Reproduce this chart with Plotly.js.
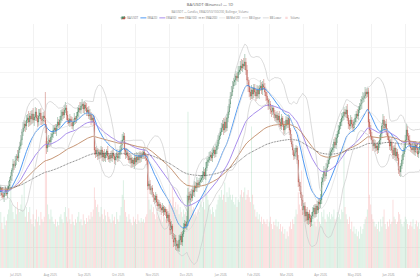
<!DOCTYPE html>
<html>
<head>
<meta charset="utf-8">
<script src="https://cdn.plot.ly/plotly-3.0.1.min.js"></script>
<style>
html,body{margin:0;padding:0;width:420px;height:280px;overflow:hidden;background:#fff;}
#wrap{width:2200px;height:1400px;transform:scale(0.2);transform-origin:0 0;}
</style>
</head>
<body>
<div id="wrap"><div id="chart" style="width:2200px;height:1400px;"></div></div>
<script>
// Daily data, first day 2025-06-01 (June is indicator warm-up, outside the visible window)
const startDay = '2025-06-01';
const closes = [
1.14,1.10,1.16,1.12,1.08,1.05,1.09,1.13,1.07,1.02,
1.06,1.10,1.04,1.00,1.03,1.07,1.11,1.08,1.04,1.01,
1.06,1.10,1.14,1.11,1.07,1.03,1.08,1.12,1.09,1.06,
1.10,1.08,1.12,1.05,1.03,1.07,1.10,1.06,1.11,1.14,
1.20,1.24,1.30,1.36,1.34,1.40,1.44,1.42,1.50,1.54,
1.60,1.68,1.72,1.76,1.74,1.80,1.82,1.78,1.84,1.81,
1.86,1.80,1.83,1.88,1.82,1.78,1.84,1.87,1.81,1.79,
1.84,1.82,1.72,1.52,1.56,1.60,1.58,1.63,1.66,1.70,
1.72,1.69,1.74,1.78,1.75,1.80,1.84,1.88,1.85,1.90,
1.92,1.85,1.80,1.77,1.81,1.79,1.74,1.78,1.82,1.80,
1.84,1.88,1.92,1.90,1.94,1.96,1.91,1.95,1.92,1.88,
1.90,1.84,1.86,1.80,1.82,1.78,1.50,1.46,1.50,1.44,
1.48,1.45,1.50,1.43,1.47,1.42,1.45,1.49,1.44,1.41,
1.45,1.42,1.47,1.44,1.40,1.43,1.46,1.42,1.45,1.50,
1.55,1.60,1.64,1.50,1.45,1.48,1.44,1.40,1.42,1.37,
1.40,1.36,1.42,1.38,1.43,1.40,1.45,1.42,1.46,1.44,
1.48,1.45,1.42,1.40,1.14,1.16,1.10,1.12,1.06,1.02,
1.00,1.04,0.98,0.94,0.96,0.92,0.90,0.93,0.88,0.91,
0.88,0.82,0.85,0.78,0.70,0.74,0.64,0.58,0.62,0.54,
0.56,0.52,0.60,0.64,0.58,0.66,0.72,0.76,0.74,0.78,
1.04,1.00,1.06,1.02,1.10,1.08,1.14,1.12,1.17,1.15,
1.18,1.20,1.22,1.25,1.28,1.24,1.32,1.38,1.40,1.43,
1.45,1.42,1.47,1.50,1.46,1.50,1.54,1.60,1.64,1.68,
1.72,1.76,1.70,1.78,1.72,1.82,1.88,1.96,2.04,2.08,
2.14,2.18,2.20,2.24,2.22,2.28,2.30,2.34,2.32,2.36,
2.34,2.38,2.30,2.20,2.14,2.08,2.04,2.10,2.06,2.12,
2.08,2.04,2.10,2.06,2.12,2.14,2.10,2.16,2.13,2.08,
2.04,2.00,1.94,1.96,1.90,1.88,1.92,1.86,1.82,1.85,
1.80,1.84,1.78,1.74,1.82,1.76,1.70,1.74,1.80,1.76,
1.82,1.70,1.62,1.56,1.50,1.44,1.48,1.52,1.40,1.18,
1.14,1.06,1.00,0.90,0.94,0.84,0.88,0.80,0.86,0.82,
0.78,0.84,0.88,0.92,0.86,0.94,0.90,0.98,0.96,1.00,
1.18,1.22,1.28,1.24,1.32,1.36,1.40,1.44,1.48,1.50,
1.52,1.58,1.55,1.62,1.66,1.70,1.74,1.78,1.82,1.84,
1.88,1.86,1.90,1.82,1.76,1.74,1.80,1.76,1.72,1.78,
1.82,1.86,1.84,1.90,1.94,1.96,2.00,2.02,2.04,2.08,
2.06,2.08,1.78,1.70,1.64,1.60,1.54,1.56,1.52,1.54,
1.50,1.56,1.60,1.66,1.74,1.80,1.72,1.76,1.68,1.64,
1.60,1.54,1.58,1.50,1.45,1.52,1.44,1.48,1.42,1.30,
1.28,1.34,1.40,1.46,1.52,1.60,1.70,1.64,1.60,1.56,
1.52,1.50,1.54,1.48,1.55,1.52,1.46,1.50,1.54,1.48,
1.52
];
// upper / lower wick lengths, in hundredths of a price unit
const wickUp = [
3,2,4,2,3,1,2,4,3,2, 2,3,1,4,2,3,2,1,3,2, 4,2,3,1,2,3,2,4,1,3,
2,4,3,1,3,2,4,2,3,5, 3,4,2,5,3,4,2,6,3,4, 5,3,6,4,3,5,4,7,3,5,
4,6,3,5,4,3,7,4,5,3, 4,5,26,4,3,5,2,4,3,5, 3,4,2,5,3,4,6,3,4,5,
6,3,4,2,5,3,4,3,5,2, 4,5,3,6,4,5,2,4,3,5, 3,4,5,2,4,3,6,3,4,2,
3,2,4,3,2,4,3,2,5,3, 2,4,3,5,2,3,4,2,3,4, 5,6,4,3,2,4,3,2,4,3,
3,2,4,3,5,2,3,4,2,3, 4,3,2,4,6,3,4,2,3,2, 3,4,2,3,4,2,3,4,2,3,
2,3,4,2,3,5,2,3,4,3, 4,3,5,2,4,3,5,4,3,6, 8,4,3,5,4,3,5,4,6,3,
4,5,3,4,5,3,6,4,3,5, 4,3,5,4,3,6,4,5,3,4, 5,4,6,3,5,4,6,5,4,6,
5,4,6,5,3,6,4,5,7,4, 6,8,4,5,3,6,4,5,3,4, 4,3,5,4,3,6,4,3,5,4,
3,4,2,5,3,4,3,2,4,3, 4,3,5,3,4,2,3,5,4,3, 4,3,2,4,3,2,4,3,2,5,
3,4,2,5,3,4,3,5,2,4, 3,4,5,3,4,2,5,3,4,6, 5,4,6,3,5,4,3,5,4,3,
4,3,5,4,3,5,4,3,5,4, 5,3,4,6,3,4,5,3,4,3, 4,3,5,4,3,5,4,6,3,5,
3,4,4,3,5,4,3,5,4,3, 4,3,5,4,3,6,4,3,5,4, 3,4,3,5,4,3,5,4,3,4,
4,3,5,4,3,5,6,4,3,5, 3,4,3,5,4,3,4,3,5,4, 3
];
const wickDown = [
2,3,2,4,2,3,1,2,3,4, 3,2,3,2,4,2,3,2,1,3, 2,3,2,4,3,2,3,2,4,2,
3,2,4,3,2,5,3,2,4,3, 4,3,5,3,4,2,5,3,4,3, 3,5,4,3,6,4,3,5,4,6,
5,3,6,4,3,5,4,3,6,4, 3,4,5,6,4,3,5,4,3,4, 4,3,5,4,3,4,3,5,4,3,
3,5,4,3,4,5,3,4,3,4, 3,4,5,3,4,3,4,5,3,4, 4,3,4,5,3,4,5,4,3,4,
3,4,3,4,5,3,4,3,4,3, 4,3,4,3,4,5,3,4,3,4, 3,4,3,5,4,3,4,3,4,5,
4,3,5,4,3,4,3,5,4,3, 3,4,3,5,4,3,4,5,3,4, 4,3,4,5,3,4,5,3,4,3,
4,5,3,4,5,4,3,5,4,4, 5,3,4,5,3,4,3,4,3,4, 4,3,5,4,3,4,5,3,4,3,
3,4,3,4,5,3,4,3,4,3, 4,3,4,3,4,3,4,3,4,3, 3,4,5,3,4,3,4,3,4,3,
4,3,4,5,3,4,3,4,3,4, 3,4,5,4,6,5,4,3,5,4, 4,5,3,4,5,3,4,5,3,4,
5,3,4,3,4,5,3,4,3,4, 3,4,5,3,4,3,5,4,3,4, 4,5,4,3,5,4,3,5,4,5,
5,4,6,5,4,6,5,4,5,6, 5,4,3,5,4,3,4,3,5,4, 4,3,4,5,3,4,3,4,3,4,
3,4,3,4,5,3,4,3,4,3, 4,3,4,3,5,4,3,4,3,4, 3,4,3,4,3,4,5,3,4,3,
4,3,5,4,3,4,5,3,4,3, 4,3,4,5,3,4,3,4,3,4, 3,4,5,3,4,3,4,5,3,4,
4,5,3,4,3,4,3,4,5,3, 4,3,4,3,4,5,3,4,3,4, 3
];
// volume, thousands
const volumes = [
180,160,200,170,150,190,210,160,175,220, 185,165,195,150,170,205,180,160,190,175, 165,200,185,155,170,195,180,210,165,190,
200,170,230,185,160,210,175,195,220,240, 280,350,260,230,200,250,220,270,240,230, 260,300,240,350,210,250,190,230,250,200,
180,220,170,200,240,190,210,175,230,200, 190,210,520,390,260,220,200,240,210,190, 180,200,170,190,175,210,220,200,185,230,
250,210,190,245,200,180,220,190,175,200, 185,210,230,190,200,175,220,195,180,205, 190,215,200,230,210,240,330,280,250,260,
230,210,250,220,200,240,215,190,230,210, 200,185,220,195,210,180,230,200,190,215, 250,300,360,280,230,210,190,220,200,185,
175,210,190,200,180,220,195,185,205,190, 200,185,210,220,350,280,240,260,230,250, 220,200,230,210,245,200,215,190,230,210,
200,240,220,260,280,250,330,290,250,270, 240,260,220,250,230,210,240,220,230,300, 640,380,300,260,240,250,220,230,210,240,
230,280,260,250,270,240,400,300,280,260, 240,220,250,230,210,240,260,280,300,290, 320,280,300,350,270,310,290,330,300,280,
300,270,260,290,250,280,270,300,320,290, 310,330,280,300,320,290,270,580,300,260, 240,210,230,200,220,190,210,180,200,190,
180,200,170,190,210,180,160,190,175,200, 170,190,160,180,150,170,140,160,120,150, 130,170,190,160,200,180,210,240,220,310,
260,240,400,230,220,250,200,230,210,240, 220,200,180,210,190,170,200,240,190,180, 230,210,240,200,190,220,210,230,200,220,
210,240,200,190,230,210,220,200,240,230, 500,250,220,200,180,210,160,190,150,170, 140,160,130,150,120,170,140,160,180,200,
210,240,730,300,260,220,200,190,170,180, 160,190,150,200,170,210,240,180,160,190, 170,200,180,190,280,210,200,180,190,230,
220,200,180,170,190,210,200,180,160,175, 190,170,200,160,180,195,170,185,160,175, 180
];
const legendNames = ['BA/USDT','EMA(20)','EMA(50)','EMA(100)','EMA(200)','BB Mid (20)','BB Upper','BB Lower','Volume'];
const tickFormat = '%b %Y';

const n = Math.min(closes.length, wickUp.length, wickDown.length, volumes.length);
const dates = [], open = [], high = [], low = [], close = [], vol = [], volColor = [];
const t0 = Date.parse(startDay + 'T00:00:00Z');
for (let i = 0; i < n; i++) {
  dates.push(new Date(t0 + i * 86400000).toISOString().slice(0, 10));
  const c = closes[i];
  const o = i === 0 ? c : closes[i - 1];
  open.push(o); close.push(c);
  high.push(+(Math.max(o, c) + wickUp[i] / 100).toFixed(4));
  low.push(+(Math.min(o, c) - wickDown[i] / 100).toFixed(4));
  vol.push(volumes[i]);
  volColor.push(c > o ? 'rgba(38,166,91,0.18)' : 'rgba(235,80,80,0.22)');
}
function ema(src, p) {
  const a = 2 / (p + 1); const out = []; let prev = src[0];
  for (let i = 0; i < src.length; i++) { prev = i === 0 ? src[0] : a * src[i] + (1 - a) * prev; out.push(prev); }
  return out;
}
const bbMid = [], bbUp = [], bbLo = [];
for (let i = 0; i < close.length; i++) {
  if (i < 19) { bbMid.push(null); bbUp.push(null); bbLo.push(null); continue; }
  const w = close.slice(i - 19, i + 1);
  const m = w.reduce((s, v) => s + v, 0) / 20;
  const sd = Math.sqrt(w.reduce((s, v) => s + (v - m) * (v - m), 0) / 20);
  bbMid.push(m); bbUp.push(m + 2 * sd); bbLo.push(m - 2 * sd);
}
const line = (y, name, color, width, dash) => ({
  type: 'scatter', mode: 'lines', x: dates, y: y, name: name, yaxis: 'y2',
  line: {color: color, width: width, dash: dash || 'solid'}, hoverinfo: 'skip'
});
const data = [
  {type: 'candlestick', x: dates, open: open, high: high, low: low, close: close, name: legendNames[0], yaxis: 'y2',
   increasing: {line: {color: '#3f7d58', width: 2}, fillcolor: '#4e8f68'},
   decreasing: {line: {color: '#b4463b', width: 2}, fillcolor: '#bf5147'}},
  line(ema(close, 20), legendNames[1], '#3d8ef0', 4.5),
  line(ema(close, 50), legendNames[2], '#9d80ea', 4.5),
  line(ema(close, 100), legendNames[3], '#c08a66', 4.5),
  line(ema(close, 200), legendNames[4], '#4a4a4a', 4, 'dot'),
  line(bbMid, legendNames[5], '#d9d9d9', 3),
  line(bbUp, legendNames[6], '#cccccc', 3.5),
  line(bbLo, legendNames[7], '#cccccc', 3.5),
  {type: 'bar', x: dates, y: vol, name: legendNames[8], yaxis: 'y', marker: {color: volColor, line: {width: 0}}, hoverinfo: 'skip'}
];
const cx = 210 / 440;
const layout = {
  width: 2200, height: 1400,
  margin: {l: 0, r: 0, t: 120, b: 60},
  paper_bgcolor: '#ffffff', plot_bgcolor: '#ffffff',
  font: {family: 'Open Sans, Arial, sans-serif', color: '#777'},
  title: {text: 'BA/USDT (Binance) — 1D', x: cx, xanchor: 'center', y: 0.982, yanchor: 'middle',
          font: {size: 20, color: '#555'}},
  annotations: [{text: 'BA/USDT — Candles, EMA20/50/100/200, Bollinger, Volume', xref: 'paper', yref: 'paper',
                 x: cx, y: 1.049, xanchor: 'center', yanchor: 'middle', showarrow: false,
                 font: {size: 14, color: '#888'}}],
  showlegend: true,
  legend: {orientation: 'h', x: cx, xanchor: 'center', y: 1.025, yanchor: 'middle',
           font: {size: 13, color: '#777'}, bgcolor: 'rgba(0,0,0,0)'},
  bargap: 0.2,
  boxgap: 0.45,
  xaxis: {type: 'date', range: ['2025-07-02 07:00', '2026-08-01 05:00'], dtick: 'M1', tickformat: tickFormat,
          ticklabelmode: 'period', showgrid: true, gridcolor: '#efefef', gridwidth: 4, zeroline: false,
          showline: false, ticks: 'outside', ticklen: 20, tickcolor: 'rgba(0,0,0,0)',
          tickfont: {size: 15, color: '#999'}, rangeslider: {visible: false}},
  yaxis: {range: [0, 1000], showgrid: false, showticklabels: false, zeroline: false, fixedrange: true},
  yaxis2: {overlaying: 'y', range: [0.32, 2.76], tick0: 0.03, dtick: 0.25, showgrid: true, gridcolor: '#f2f2f2',
           gridwidth: 4, showticklabels: false, zeroline: false, showline: false}
};
Plotly.newPlot('chart', data, layout, {staticPlot: true, displayModeBar: false});
</script>
</body>
</html>
